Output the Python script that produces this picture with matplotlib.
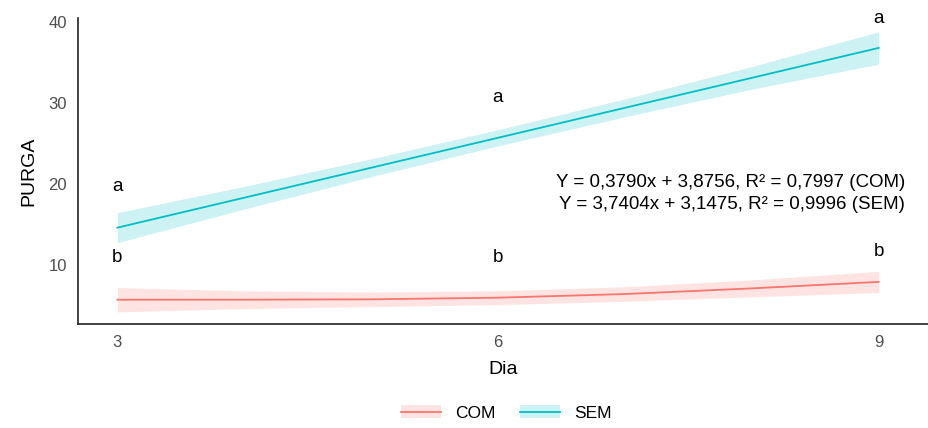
import matplotlib.pyplot as plt
from matplotlib.lines import Line2D
from matplotlib.patches import Patch

plt.rcParams['font.family'] = ['Liberation Sans', 'DejaVu Sans']

# fitted curves
dia = [3, 4, 5, 6, 7, 8, 9]
com_fit = [5.7, 5.7, 5.75, 5.95, 6.4, 7.1, 7.9]
com_se = [1.5, 1.1, 0.9, 0.85, 0.9, 1.05, 1.3]
sem_fit = [14.6, 18.3, 22.0, 25.7, 29.4, 33.1, 36.8]
sem_se = [1.85, 1.4, 1.1, 1.0, 1.1, 1.4, 2.0]

# significance letters
letter_x = [3, 6, 9]
letters_sem = ['a', 'a', 'a']
letters_sem_y = [19.7, 30.7, 40.4]
letters_com = ['b', 'b', 'b']
letters_com_y = [10.9, 10.9, 11.7]

eq_lines = ['Y = 0,3790x + 3,8756, R² = 0,7997 (COM)',
            'Y = 3,7404x + 3,1475, R² = 0,9996 (SEM)']

com_col = '#F8766D'
sem_col = '#00BFC4'

fig = plt.figure(figsize=(9.29, 4.28), dpi=100)
ax = fig.add_axes([0.084, 0.243, 0.915, 0.715])

for y, se, c in [(com_fit, com_se, com_col), (sem_fit, sem_se, sem_col)]:
    lo = [a - b for a, b in zip(y, se)]
    hi = [a + b for a, b in zip(y, se)]
    ax.fill_between(dia, lo, hi, color=c, alpha=0.2, lw=0)
    ax.plot(dia, y, color=c, lw=1.3)

for x, t, y in zip(letter_x, letters_sem, letters_sem_y):
    ax.text(x, y, t, ha='center', va='center', fontsize=13.5)
for x, t, y in zip(letter_x, letters_com, letters_com_y):
    ax.text(x, y, t, ha='center', va='center', fontsize=13.5)

ax.text(9.21, 20.2, eq_lines[0], ha='right', va='center', fontsize=13.5)
ax.text(9.21, 17.5, eq_lines[1], ha='right', va='center', fontsize=13.5)

ax.set_xlim(2.69, 9.39)
ax.set_ylim(2.7, 40.5)
ax.set_xticks([3, 6, 9])
ax.set_yticks([10, 20, 30, 40])
ax.tick_params(length=0, labelsize=12, labelcolor='#4d4d4d', pad=8)
for s in ['top', 'right']:
    ax.spines[s].set_visible(False)
for s in ['left', 'bottom']:
    ax.spines[s].set_linewidth(1.2)
    ax.spines[s].set_color('#222222')
ax.set_xlabel('Dia', fontsize=14, labelpad=8)
ax.set_ylabel('PURGA', fontsize=14, labelpad=8)

handles = [(Patch(color=com_col, alpha=0.2, lw=0), Line2D([], [], color=com_col, lw=1.3)),
           (Patch(color=sem_col, alpha=0.2, lw=0), Line2D([], [], color=sem_col, lw=1.3))]
fig.legend(handles, ['COM', 'SEM'], loc='center', bbox_to_anchor=(0.545, 0.035),
           ncol=2, frameon=False, fontsize=12.5, handlelength=2.3, columnspacing=1.4)

fig.savefig('out.png', dpi=100)
